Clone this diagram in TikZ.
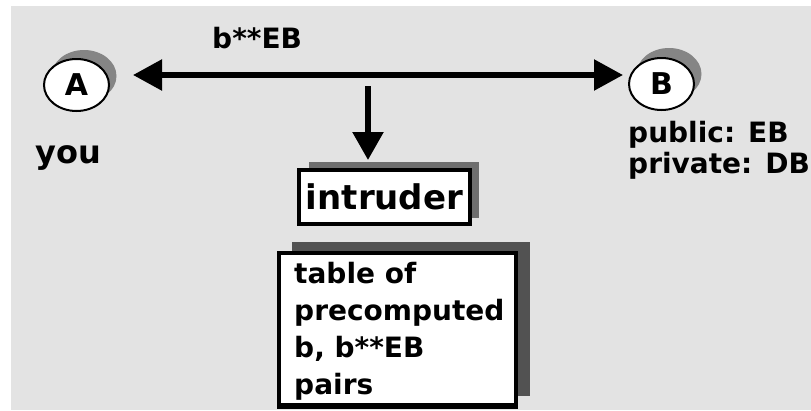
\documentclass[tikz,border=0pt]{standalone}
\usepackage{fontspec}
\setmainfont{DejaVu Sans}
\usetikzlibrary{arrows.meta,shapes.geometric}
\definecolor{bg}{HTML}{E3E3E3}
\definecolor{shadowlight}{HTML}{858585}
\definecolor{shadowmid}{HTML}{6E6E6E}
\definecolor{shadowdark}{HTML}{525252}
\tikzset{
  party/.style={ellipse, draw=black, line width=2pt, fill=white,
    minimum width=65pt, minimum height=52pt, inner sep=0pt,
    font=\fontsize{30}{30}\selectfont\bfseries},
  partyshadow/.style={ellipse, fill=shadowlight, minimum width=65pt,
    minimum height=52pt, inner sep=0pt},
  lbl/.style={inner sep=0pt, font=\fontsize{28}{31}\selectfont\bfseries},
  bigarrow/.style={line width=5.5pt,
    {Triangle[length=29pt,width=30pt]}-{Triangle[length=29pt,width=30pt]}},
  downarrow/.style={line width=5.5pt, -{Triangle[length=28pt,width=30pt]}},
  intrbox/.style={draw=black, line width=4.5pt, fill=white,
    minimum width=171pt, minimum height=54pt, inner sep=0pt,
    font=\fontsize{34}{34}\selectfont\bfseries},
  tablebox/.style={draw=black, line width=4pt, fill=white,
    minimum width=237pt, minimum height=152pt, inner sep=0pt}
}
\begin{document}
\begin{tikzpicture}[x=1pt,y=-1pt]
\useasboundingbox (0,0) rectangle (811,410);
\fill[white] (0,0) rectangle (811,410);
\fill[bg] (11,6) rectangle (811,410);

% party A
\node[partyshadow] (Ash) at (84,76) {};
\node[party] (A) at (76.5,85) {A};
\node[lbl, font=\fontsize{32}{32}\selectfont\bfseries, anchor=base west] (you) at (35,163) {you};

% party B
\node[partyshadow] (Bsh) at (669,74) {};
\node[party] (B) at (661.5,84) {B};
\node[lbl, anchor=base west] (pub) at (628,142) {public: EB};
\node[lbl, anchor=base west] (priv) at (628,173) {private: DB};

% message
\coordinate (L) at (133,75);
\coordinate (R) at (623,75);
\draw[bigarrow] (L) -- (R);
\node[lbl, anchor=base west] (msg) at (212,48) {b**EB};

% intruder
\fill[shadowmid] (309,162) rectangle (479,218);
\node[intrbox] (intruder) at (384.5,197) {intruder};
\coordinate (tap) at (368,86);
\coordinate (tapend) at (368,160);
\draw[downarrow] (tap) -- (tapend);

% table
\fill[shadowdark] (292,242) rectangle (530,396);
\node[tablebox, anchor=north west] (table) at (277,251) {};
\node[lbl, anchor=north west, align=left, font=\fontsize{28}{37}\selectfont\bfseries] (tabletext) at (294,262)
  {table of\\precomputed\\b, b**EB\\pairs};
\draw[line width=4pt] (table.south west) -- (table.south east);
\end{tikzpicture}
\end{document}
